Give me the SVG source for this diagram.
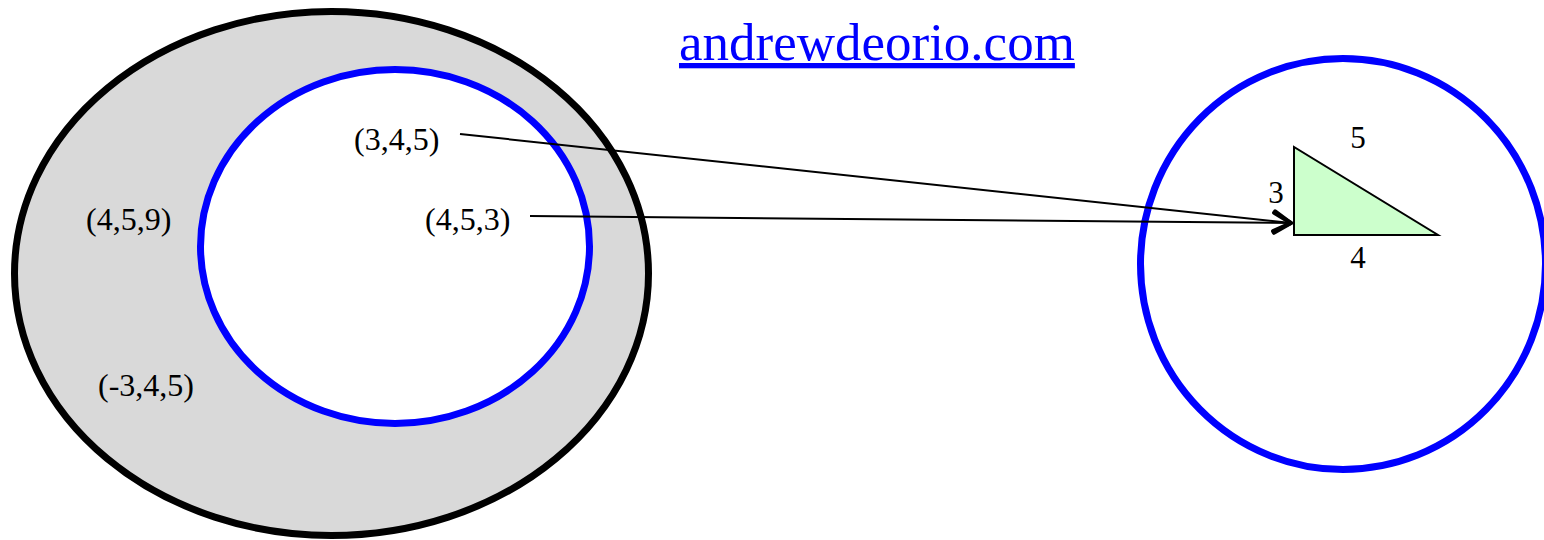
<svg xmlns="http://www.w3.org/2000/svg" width="1544" height="540" viewBox="0 0 1544 540">
<style>
.t{font-family:"Liberation Serif","Times New Roman",serif;font-size:32px;fill:#000}
.n{font-family:"Liberation Serif","Times New Roman",serif;font-size:31px;fill:#000}
.blue{fill:none;stroke:#0000ff;stroke-width:7}
.conn{stroke:#000;stroke-width:2;fill:none}
</style>
<defs>
<marker id="arr" viewBox="0 0 24 24" refX="20" refY="12" markerWidth="24" markerHeight="24" markerUnits="userSpaceOnUse" orient="auto">
<path d="M3,2 L20,12 L3,22" fill="none" stroke="#000" stroke-width="4" stroke-linecap="round" stroke-linejoin="round"/>
</marker>
</defs>
<rect width="1544" height="540" fill="#fff"/>
<g id="universe">
<ellipse cx="331.5" cy="273.5" rx="317" ry="262" fill="#d9d9d9" stroke="#000" stroke-width="7"/>
</g>
<g id="domain">
<ellipse cx="395" cy="246.5" rx="194.5" ry="177" fill="#fff" stroke="#0000ff" stroke-width="7"/>
</g>
<g id="codomain">
<ellipse cx="1343" cy="264" rx="202.5" ry="205.5" class="blue"/>
</g>
<g id="triangle">
<polygon points="1294,147 1294,235 1438,235" fill="#ccffcc" stroke="#000" stroke-width="2"/>
<text class="n" x="1358" y="148" text-anchor="middle">5</text>
<text class="n" x="1276" y="203" text-anchor="middle">3</text>
<text class="n" x="1358" y="268" text-anchor="middle">4</text>
</g>
<g id="labels">
<text class="t" x="354" y="150">(3,4,5)</text>
<text class="t" x="425" y="230">(4,5,3)</text>
<text class="t" x="86" y="230">(4,5,9)</text>
<text class="t" x="98" y="396">(-3,4,5)</text>
</g>
<g id="url">
<text x="679" y="60" font-family="Liberation Serif,Times New Roman,serif" font-size="53" fill="#0000ff" text-decoration="underline">andrewdeorio.com</text>
</g>
<g id="connectors">
<line class="conn" x1="460" y1="134" x2="1291" y2="223" marker-end="url(#arr)"/>
<line class="conn" x1="530" y1="216" x2="1291" y2="223" marker-end="url(#arr)"/>
</g>
</svg>
